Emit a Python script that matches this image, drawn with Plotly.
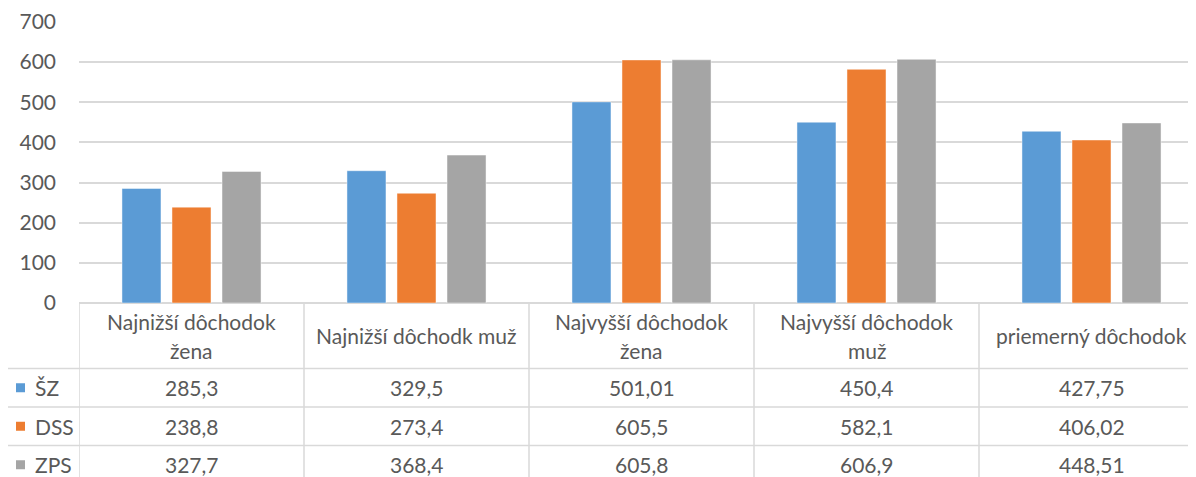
import plotly.graph_objects as go

# data
header_lines = [
    ["Najnižší dôchodok", "žena"],
    ["Najnižší dôchodk muž"],
    ["Najvyšší dôchodok", "žena"],
    ["Najvyšší dôchodok", "muž"],
    ["priemerný dôchodok"],
]
categories = [" ".join(h) for h in header_lines]
series_names = ["ŠZ", "DSS", "ZPS"]
sz = [285.3, 329.5, 501.01, 450.4, 427.75]
dss = [238.8, 273.4, 605.5, 582.1, 406.02]
zps = [327.7, 368.4, 605.8, 606.9, 448.51]
colors = ["#5B9BD5", "#ED7D31", "#A5A5A5"]
y_ticks = [0, 100, 200, 300, 400, 500, 600, 700]

OFF = 8                      # browser body margin
WIN_W, WIN_H = 1196, 477
W, H = WIN_W - OFF, WIN_H - OFF
# plot area in window pixels
L, T, B = 79, 22, 303
PH = B - T
PW = WIN_W - L
CAT_W = 225
TXT = "#595959"
LINE = "#D9D9D9"
FONT = "Lato"
FS = 21

x_max = -0.5 + PW / CAT_W
idx = list(range(len(categories)))


def py(pix):
    """window pixel row -> paper y"""
    return (B - pix) / PH


def px(pix):
    """window pixel column -> paper x"""
    return (pix - L) / PW


fig = go.Figure()
for name, vals, col in zip(series_names, [sz, dss, zps], colors):
    fig.add_trace(go.Bar(
        x=idx, y=vals, name=name,
        marker=dict(color=col, line=dict(color="rgba(255,255,255,0.45)", width=1)),
        hoverinfo="skip",
    ))

row_tops = [368.5, 407, 445.5]
row_h = 38.5

shapes = []
for rt in row_tops:
    shapes.append(dict(type="line", xref="paper", yref="paper",
                       x0=px(7), x1=1.0, y0=py(rt), y1=py(rt),
                       line=dict(color=LINE, width=1.5)))
for i in range(len(categories) + 1):
    shapes.append(dict(type="line", xref="x", yref="paper",
                       x0=i - 0.5, x1=i - 0.5, y0=0, y1=py(WIN_H + 5),
                       line=dict(color=LINE, width=1.5)))
shapes.append(dict(type="line", xref="paper", yref="paper",
                   x0=px(7), x1=px(7), y0=py(row_tops[0]), y1=py(WIN_H + 5),
                   line=dict(color=LINE, width=1.5)))

annotations = []
head_c = (B + row_tops[0]) / 2
for i, lines in enumerate(header_lines):
    n = len(lines)
    for j, txt in enumerate(lines):
        yc = head_c + (j - (n - 1) / 2) * 29
        annotations.append(dict(x=i, xref="x", y=py(yc), yref="paper",
                                text=txt, showarrow=False, xanchor="center",
                                yanchor="middle", font=dict(color=TXT, size=FS, family=FONT)))

for r, (name, vals, col) in enumerate(zip(series_names, [sz, dss, zps], colors)):
    yc = row_tops[r] + row_h / 2
    shapes.append(dict(type="rect", xref="paper", yref="paper",
                       x0=px(16), x1=px(25), y0=py(yc - 4.5), y1=py(yc + 4.5),
                       fillcolor=col, line=dict(width=0)))
    annotations.append(dict(x=px(33), xref="paper", y=py(yc), yref="paper",
                            text=name, showarrow=False, xanchor="left", yanchor="middle",
                            font=dict(color=TXT, size=FS, family=FONT)))
    for i, v in enumerate(vals):
        annotations.append(dict(x=i, xref="x", y=py(yc), yref="paper",
                                text=str(v).replace(".", ","), showarrow=False,
                                xanchor="center", yanchor="middle",
                                font=dict(color=TXT, size=FS, family=FONT)))

fig.update_layout(
    width=W, height=H,
    margin=dict(l=L - OFF, r=0, t=T - OFF, b=WIN_H - B, pad=0),
    paper_bgcolor="white", plot_bgcolor="white",
    barmode="group", bargap=0.333, bargroupgap=0.22,
    showlegend=False,
    font=dict(family=FONT, size=FS, color=TXT),
    xaxis=dict(range=[-0.5, x_max], showticklabels=False, showgrid=False,
               zeroline=False, showline=False, fixedrange=True),
    yaxis=dict(range=[0, 700], tickvals=y_ticks, gridcolor=LINE, gridwidth=1.5,
               zeroline=True, zerolinecolor=LINE, zerolinewidth=1.5,
               showline=False, ticks="", ticklabelstandoff=22,
               tickfont=dict(color=TXT, size=FS, family=FONT), fixedrange=True),
    shapes=shapes,
    annotations=annotations,
)

fig.write_html("out.html")
